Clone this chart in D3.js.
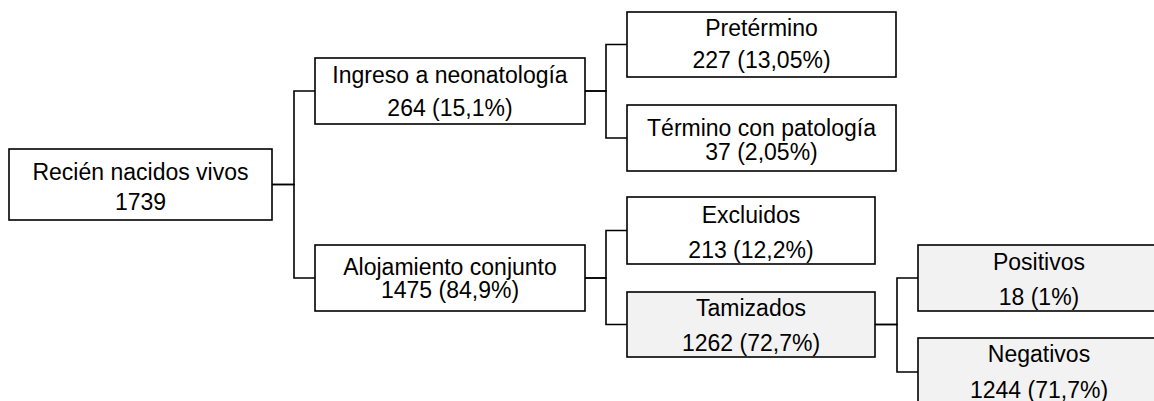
<!DOCTYPE html>
<html>
<head>
<meta charset="utf-8">
<script src="https://cdn.jsdelivr.net/npm/d3@7"></script>
<style>
  body { margin: 0; background: #fff; }
  text { font-family: "Liberation Sans", Arial, sans-serif; fill: #000; }
</style>
</head>
<body>
<svg id="flow"></svg>
<script>
const width = 1154;
const height = 401;

// Flow data
const ids = ["rn", "neo", "aloj", "pret", "term", "excl", "tam", "pos", "neg"];
const parents = ["", "rn", "rn", "neo", "neo", "aloj", "aloj", "tam", "tam"];
const labels = ["Recién nacidos vivos", "Ingreso a neonatología", "Alojamiento conjunto",
    "Pretérmino", "Término con patología", "Excluidos", "Tamizados", "Positivos", "Negativos"];
const counts = ["1739", "264", "1475", "227", "37", "213", "1262", "18", "1244"];
const percents = ["", "15,1%", "84,9%", "13,05%", "2,05%", "12,2%", "72,7%", "1%", "71,7%"];
const shaded = ["tam", "pos", "neg"];

// Layout (box geometry)
const colX = [9, 315, 627, 918];
const boxW = { rn: 263, neo: 270, aloj: 270, pret: 269, term: 269, excl: 248, tam: 248, pos: 242, neg: 242 };
const boxTop = { rn: 149, neo: 58, aloj: 245, pret: 12, term: 105, excl: 197, tam: 292, pos: 245, neg: 338 };
const boxH = { rn: 71, neo: 66, aloj: 66, pret: 65, term: 66, excl: 67, tam: 65, pos: 66, neg: 68 };
// text line centres, relative to box top
const line1 = { rn: 23, neo: 17, aloj: 22, pret: 16, term: 23, excl: 18, tam: 16, pos: 17, neg: 16 };
const line2 = { rn: 53, neo: 50, aloj: 45, pret: 48, term: 47, excl: 53, tam: 51, pos: 52, neg: 52 };

const rows = ids.map((id, i) => ({
    id: id,
    parent: parents[i] || null,
    label: labels[i],
    value: percents[i] ? counts[i] + " (" + percents[i] + ")" : counts[i]
}));

const root = d3.stratify().id(d => d.id).parentId(d => d.parent)(rows);

const x = d3.scaleOrdinal().domain([0, 1, 2, 3]).range(colX);

root.each(n => {
    n.x0 = x(n.depth);
    n.x1 = n.x0 + boxW[n.id];
    n.y0 = boxTop[n.id];
    n.y1 = n.y0 + boxH[n.id];
    n.cy = (n.y0 + n.y1) / 2;
});

const svg = d3.select("#flow").attr("width", width).attr("height", height)
    .attr("viewBox", `0 0 ${width} ${height}`);

svg.append("rect").attr("width", width).attr("height", height).attr("fill", "#fff");

// connectors
svg.append("g")
    .selectAll("path")
    .data(root.links())
    .join("path")
    .attr("fill", "none")
    .attr("stroke", "#000")
    .attr("stroke-width", 1.6)
    .attr("d", l => {
        const mid = Math.round((l.source.x1 + l.target.x0) / 2);
        return `M${l.source.x1},${l.source.cy}H${mid}V${l.target.cy}H${l.target.x0}`;
    });

// boxes
const nodes = svg.append("g")
    .selectAll("g")
    .data(root.descendants())
    .join("g");

nodes.append("rect")
    .attr("x", d => d.x0)
    .attr("y", d => d.y0)
    .attr("width", d => d.x1 - d.x0)
    .attr("height", d => d.y1 - d.y0)
    .attr("fill", d => shaded.includes(d.id) ? "#f2f2f2" : "#fff")
    .attr("stroke", "#000")
    .attr("stroke-width", 1.6);

nodes.append("text")
    .attr("x", d => (d.x0 + d.x1) / 2)
    .attr("y", d => d.y0 + line1[d.id])
    .attr("dy", "0.36em")
    .attr("text-anchor", "middle")
    .style("font-size", "23px")
    .text(d => d.data.label);

nodes.append("text")
    .attr("x", d => (d.x0 + d.x1) / 2)
    .attr("y", d => d.y0 + line2[d.id])
    .attr("dy", "0.36em")
    .attr("text-anchor", "middle")
    .style("font-size", "23px")
    .text(d => d.data.value);
</script>
</body>
</html>
